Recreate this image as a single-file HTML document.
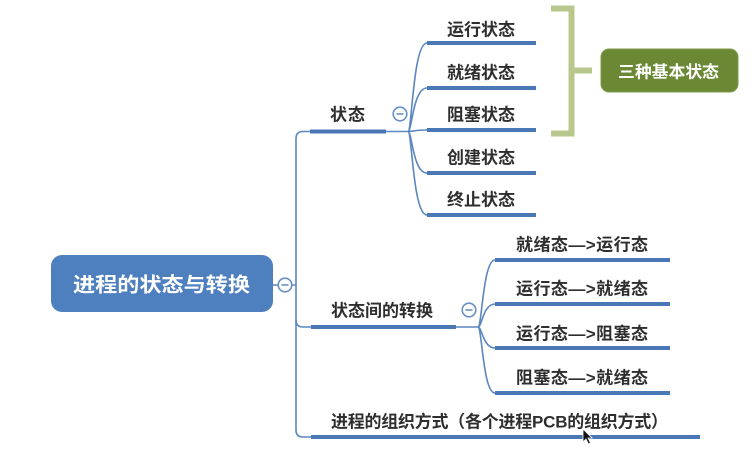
<!DOCTYPE html>
<html><head><meta charset="utf-8"><style>
html,body{margin:0;padding:0;background:#fff;width:749px;height:459px;overflow:hidden}
svg{display:block}
text{font-family:"Liberation Sans","Noto Sans CJK SC",sans-serif;font-weight:bold;fill:#2e2e2e;font-size:17px}
</style></head><body>
<svg width="749" height="459" viewBox="0 0 749 459" xmlns="http://www.w3.org/2000/svg">
<g fill="none" stroke="#5b86c0" stroke-width="1.6">
  <!-- root link -->
  <line x1="273" y1="285" x2="296" y2="285"/>
  <!-- trunk -->
  <path d="M311,131.5 L303,131.5 Q296,131.5 296,138.5 L296,430 Q296,437 303,437 L311,437"/>
  <path d="M296,320 Q296,327 303,327 L311,327"/>
  <!-- 状态 connector -->
  <line x1="386" y1="131.5" x2="408" y2="131.5"/>
  <path d="M408,131.5 C412,131.5 413,43 427,43"/>
  <path d="M408,131.5 C412,131.5 413,88 427,88"/>
  <path d="M408,131.5 C414,131.5 414,130 427,130"/>
  <path d="M408,131.5 C412,131.5 413,173 427,173"/>
  <path d="M408,131.5 C412,131.5 413,215 427,215"/>
  <!-- 状态间的转换 connector -->
  <line x1="456" y1="327" x2="478" y2="327"/>
  <path d="M478,327 C482,327 483,260 495,260"/>
  <path d="M478,327 C482,327 483,304 495,304"/>
  <path d="M478,327 C482,327 483,348 495,348"/>
  <path d="M478,327 C482,327 483,393 495,393"/>
</g>
<g stroke="#4a77b6" stroke-width="4">
  <line x1="310" y1="131.5" x2="386" y2="131.5"/>
  <line x1="427" y1="43" x2="536" y2="43"/>
  <line x1="427" y1="88" x2="536" y2="88"/>
  <line x1="427" y1="130" x2="536" y2="130"/>
  <line x1="427" y1="173" x2="536" y2="173"/>
  <line x1="427" y1="215" x2="536" y2="215"/>
  <line x1="311" y1="327" x2="456" y2="327"/>
  <line x1="495" y1="260" x2="670" y2="260"/>
  <line x1="495" y1="304" x2="670" y2="304"/>
  <line x1="495" y1="348" x2="670" y2="348"/>
  <line x1="495" y1="393" x2="670" y2="393"/>
  <line x1="311" y1="437" x2="700" y2="437"/>
</g>
<!-- collapse circles -->
<g fill="#fff" stroke="#6a8fc4" stroke-width="1.6">
  <circle cx="285" cy="285" r="6.8"/>
  <circle cx="400" cy="114" r="6.8"/>
  <circle cx="469" cy="310" r="6.8"/>
</g>
<g stroke="#6a8fc4" stroke-width="1.6">
  <line x1="281.5" y1="285" x2="288.5" y2="285"/>
  <line x1="396.5" y1="114" x2="403.5" y2="114"/>
  <line x1="465.5" y1="310" x2="472.5" y2="310"/>
</g>
<!-- root -->
<rect x="51" y="255" width="222" height="57" rx="11" fill="#4e7fbf"/>
<text x="73" y="291.5" textLength="177" lengthAdjust="spacingAndGlyphs" style="fill:#fff;font-size:20px">进程的状态与转换</text>
<!-- green bracket -->
<path d="M551,8.5 L571.5,8.5 L571.5,133.5 L551,133.5" fill="none" stroke="#b8c88d" stroke-width="6"/>
<line x1="571.5" y1="70.5" x2="592" y2="70.5" stroke="#b8c88d" stroke-width="6"/>
<rect x="601" y="49" width="137" height="43" rx="8" fill="#6b8935" stroke="#7f9c4a" stroke-width="1"/>
<text x="618" y="77.5" textLength="101" lengthAdjust="spacingAndGlyphs" style="fill:#fff;font-size:16.5px">三种基本状态</text>
<!-- labels -->
<text x="330" y="120.5" textLength="35">状态</text>
<text x="447" y="35.5" textLength="68">运行状态</text>
<text x="447" y="78.5" textLength="68">就绪状态</text>
<text x="447" y="120.5" textLength="68">阻塞状态</text>
<text x="447" y="163.5" textLength="68">创建状态</text>
<text x="447" y="205.5" textLength="68">终止状态</text>
<text x="331" y="316.5" textLength="102">状态间的转换</text>
<text x="516" y="250.5" textLength="132">就绪态—&gt;运行态</text>
<text x="516" y="294.5" textLength="132">运行态—&gt;就绪态</text>
<text x="516" y="339.5" textLength="132">运行态—&gt;阻塞态</text>
<text x="516" y="383.5" textLength="132">阻塞态—&gt;就绪态</text>
<text x="331" y="427.5" textLength="337">进程的组织方式（各个进程PCB的组织方式）</text>
<!-- cursor -->
<path d="M583,429 L583,442 L586,439 L588.5,444 L590.5,443 L588,438 L592,438 Z" fill="#111" stroke="#fff" stroke-width="0.8"/>
</svg>
</body></html>
